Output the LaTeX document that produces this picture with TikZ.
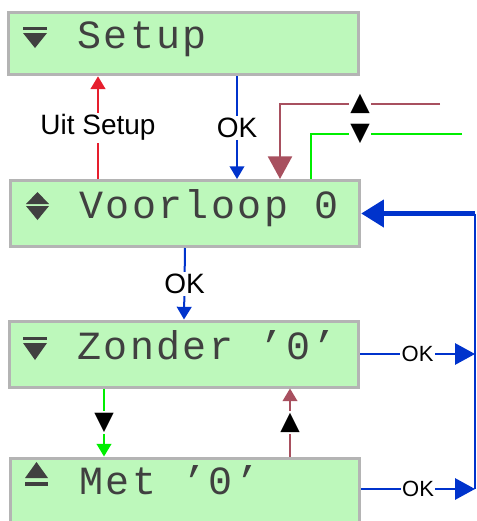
\documentclass[tikz,border=0pt]{standalone}
\usepackage{fontspec}
\setmainfont{Liberation Sans}
\newfontfamily\lcdfont[LetterSpace=6]{Liberation Mono}
\newfontfamily\symfont{DejaVu Sans}
\usepackage{tikz}
\usetikzlibrary{arrows.meta, calc}
\usetikzlibrary{positioning}
\definecolor{lcdgreen}{RGB}{189,248,187}
\definecolor{lcdgray}{RGB}{180,180,180}
\definecolor{lcdink}{RGB}{64,64,64}
\definecolor{okblue}{RGB}{0,51,204}
\definecolor{uitred}{RGB}{230,30,45}
\definecolor{upmauve}{RGB}{168,80,95}
\definecolor{downgreen}{RGB}{0,238,0}

\begin{document}
\begin{tikzpicture}[x=0.75pt, y=-0.75pt,
    lcd/.style={draw=lcdgray, line width=2.25pt, fill=lcdgreen, inner sep=0pt,
        minimum width=262pt, minimum height=49.5pt},
    lcdtext/.style={anchor=base west, inner sep=0pt, text=lcdink,
        font=\lcdfont\fontsize{30}{36}\selectfont},
    lbl/.style={fill=white, inner sep=1.5pt, font=\fontsize{21}{24}\selectfont},
    oklbl/.style={fill=white, inner sep=1pt, font=\fontsize{16.5}{19}\selectfont},
    sym/.style={fill=white, inner sep=1pt, font=\symfont\fontsize{19}{22}\selectfont},
    small/.style={-{Triangle[length=9.5pt,width=11pt]}},
    big/.style={-{Triangle[length=15pt,width=16pt]}}]
    \useasboundingbox (0,0) rectangle (477,521);
    \clip (0,0) rectangle (477,521);
    \node[lcd, minimum height=47pt] (setup) at (183.5,43.5) {};
    \node[lcd] (voorloop) at (185,213.5) {};
    \node[lcd] (zonder) at (184,354) {};
    \node[lcd] (met) at (185,491) {};
    \node[lcdtext] (setupt) at (77,48) {Setup};
    \node[lcdtext] (voorloopt) at (79,218) {Voorloop 0};
    \node[lcdtext] (zondert) at (77,359) {Zonder ’0’};
    \node[lcdtext] (mett) at (79,494) {Met ’0’};
    \begin{scope}[lcdink]
        \fill (23,27) rectangle (47,30);
        \fill (23,33) -- (47,33) -- (35,48) -- cycle;
        \fill (26,204) -- (49,204) -- (37.5,192) -- cycle;
        \fill (26,206) -- (49,206) -- (37.5,220) -- cycle;
        \fill (23,337) rectangle (47,340);
        \fill (23,343) -- (47,343) -- (35,360) -- cycle;
        \fill (25,478) -- (48,478) -- (36.5,462) -- cycle;
        \fill (25,482) rectangle (48,486);
    \end{scope}
    \coordinate (uitx) at (98,0);
    \coordinate (okx) at (237,0);
    \coordinate (upx) at (280,0);
    \coordinate (downx) at (311,0);
    \coordinate (upend) at (440,104);
    \coordinate (downend) at (462,134);
    \coordinate (railx) at (475,0);
    \coordinate (lftx) at (104,0);
    \coordinate (rgtx) at (290,0);
    \draw[uitred, line width=1.5pt, small] (voorloop.north -| uitx)
        -- node[lbl, text=black] {Uit Setup} (setup.south -| uitx);
    \draw[okblue, line width=1.1pt, small] (setup.south -| okx)
        -- node[lbl, text=black] {OK} (voorloop.north -| okx);
    \draw[upmauve, line width=1.9pt, -{Triangle[length=17pt,width=18pt]}] (upend)
        -- node[sym, text=black] {▲} (upend -| upx) -- (voorloop.north -| upx);
    \draw[downgreen, line width=1.5pt] (downend)
        -- node[sym, text=black, pos=0.675] {▼} (downend -| downx) -- (voorloop.north -| downx);
    \draw[okblue, line width=1.5pt, small] (voorloop.south)
        -- node[lbl, text=black] {OK} (zonder.north);
    \draw[downgreen, line width=1.5pt, small] (zonder.south -| lftx)
        -- node[sym, text=black] {▼} (met.north -| lftx);
    \draw[upmauve, line width=1.5pt, small] (met.north -| rgtx)
        -- node[sym, text=black] {▲} (zonder.south -| rgtx);
    \draw[okblue, line width=1.5pt] (voorloop.east -| railx) -- ($(met.east -| railx)+(0,-2)$);
    \draw[okblue, line width=3.75pt, -{Triangle[length=17pt,width=20pt]}] (voorloop.east -| railx)
        -- (voorloop.east);
    \draw[okblue, line width=1.5pt, big] (zonder.east)
        -- node[oklbl, text=black] {OK} (zonder.east -| railx);
    \draw[okblue, line width=1.5pt, big] ($(met.east)+(0,-2)$)
        -- node[oklbl, text=black] {OK} ($(met.east -| railx)+(0,-2)$);
\end{tikzpicture}
\end{document}
